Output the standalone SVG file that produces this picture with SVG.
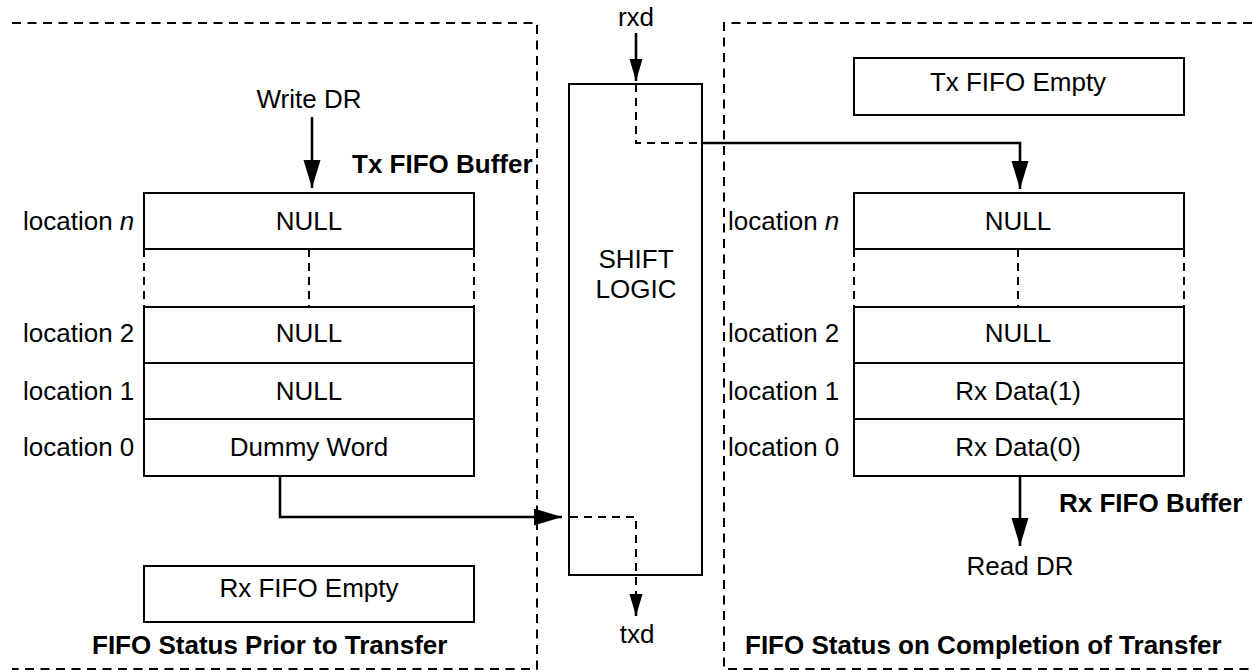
<svg xmlns="http://www.w3.org/2000/svg" width="1252" height="671" viewBox="0 0 1252 671">
<style>
text{font-family:"Liberation Sans",Arial,sans-serif;font-size:26px;fill:#000}
.c{text-anchor:middle}
.b{font-weight:bold}
.box{fill:none;stroke:#000;stroke-width:2}
.frame{fill:none;stroke:#000;stroke-width:2;stroke-dasharray:9 6.5}
.dash{fill:none;stroke:#000;stroke-width:2;stroke-dasharray:8 6}
.conn{fill:none;stroke:#000;stroke-width:2.6}
.dconn{fill:none;stroke:#000;stroke-width:2;stroke-dasharray:8 6}
</style>
<defs>
<marker id="big" markerUnits="userSpaceOnUse" markerWidth="30" markerHeight="18" refX="28" refY="8.5" orient="auto"><path d="M0,0 L28,8.5 L0,17 z" fill="#000"/></marker>
<marker id="small" markerUnits="userSpaceOnUse" markerWidth="24" markerHeight="14" refX="22" refY="6.5" orient="auto"><path d="M0,0 L22,6.5 L0,13 z" fill="#000"/></marker>
</defs>
<rect width="1252" height="671" fill="#fff"/>

<g id="frame-left">
<path class="frame" d="M12,23 H537 V669 H12"/>
<text class="b" x="92" y="654">FIFO Status Prior to Transfer</text>
</g>
<g id="frame-right">
<path class="frame" d="M1252,23 H724 V669 H1252"/>
<text class="b" x="745" y="654">FIFO Status on Completion of Transfer</text>
</g>

<g id="tx-fifo">
<rect class="box" x="144" y="193" width="330" height="56"/>
<path class="dash" d="M144,249 V307 M309,249 V307 M474,249 V307"/>
<rect class="box" x="144" y="307" width="330" height="56"/>
<rect class="box" x="144" y="363" width="330" height="56"/>
<rect class="box" x="144" y="419" width="330" height="57"/>
<text class="c" x="309" y="230">NULL</text>
<text class="c" x="309" y="342">NULL</text>
<text class="c" x="309" y="400">NULL</text>
<text class="c" x="309" y="456">Dummy Word</text>
<text x="23" y="230">location <tspan font-style="italic">n</tspan></text>
<text x="23" y="342">location 2</text>
<text x="23" y="400">location 1</text>
<text x="23" y="456">location 0</text>
<text class="b" x="352" y="173">Tx FIFO Buffer</text>
</g>

<g id="rx-empty">
<rect class="box" x="144" y="566" width="330" height="56"/>
<text class="c" x="309" y="597">Rx FIFO Empty</text>
</g>

<g id="write-dr"><text class="c" x="309" y="108">Write DR</text></g>

<g id="shift-logic">
<rect class="box" x="569" y="84" width="133" height="491"/>
<text class="c" x="636" y="268">SHIFT</text>
<text class="c" x="636" y="298">LOGIC</text>
</g>
<g id="rxd"><text class="c" x="636" y="26">rxd</text></g>
<g id="txd"><text class="c" x="637" y="643">txd</text></g>

<g id="tx-empty">
<rect class="box" x="854" y="58" width="330" height="57"/>
<text class="c" x="1018" y="91">Tx FIFO Empty</text>
</g>

<g id="rx-fifo">
<rect class="box" x="854" y="193" width="330" height="56"/>
<path class="dash" d="M854,249 V307 M1018,249 V307 M1184,249 V307"/>
<rect class="box" x="854" y="307" width="330" height="56"/>
<rect class="box" x="854" y="363" width="330" height="56"/>
<rect class="box" x="854" y="419" width="330" height="57"/>
<text class="c" x="1018" y="230">NULL</text>
<text class="c" x="1018" y="342">NULL</text>
<text class="c" x="1018" y="400">Rx Data(1)</text>
<text class="c" x="1018" y="456">Rx Data(0)</text>
<text x="728" y="230">location <tspan font-style="italic">n</tspan></text>
<text x="728" y="342">location 2</text>
<text x="728" y="400">location 1</text>
<text x="728" y="456">location 0</text>
<text class="b" x="1059" y="512">Rx FIFO Buffer</text>
</g>

<g id="read-dr"><text class="c" x="1020" y="575">Read DR</text></g>

<g id="connectors">
<path class="conn" d="M312,117 V188" marker-end="url(#big)"/>
<path class="conn" d="M636,33 V81" stroke-width="2.2" marker-end="url(#small)"/>
<path class="dconn" d="M636,84 V143 H702"/>
<path class="conn" d="M702,143 H1020 V189" marker-end="url(#big)"/>
<path class="conn" d="M280,476 V517 H562" marker-end="url(#big)"/>
<path class="dconn" d="M570,517 H636 V596"/>
<path class="conn" d="M636,594 V616" stroke-width="2" marker-end="url(#small)"/>
<path class="conn" d="M1020,476 V546" marker-end="url(#big)"/>
</g>
</svg>
